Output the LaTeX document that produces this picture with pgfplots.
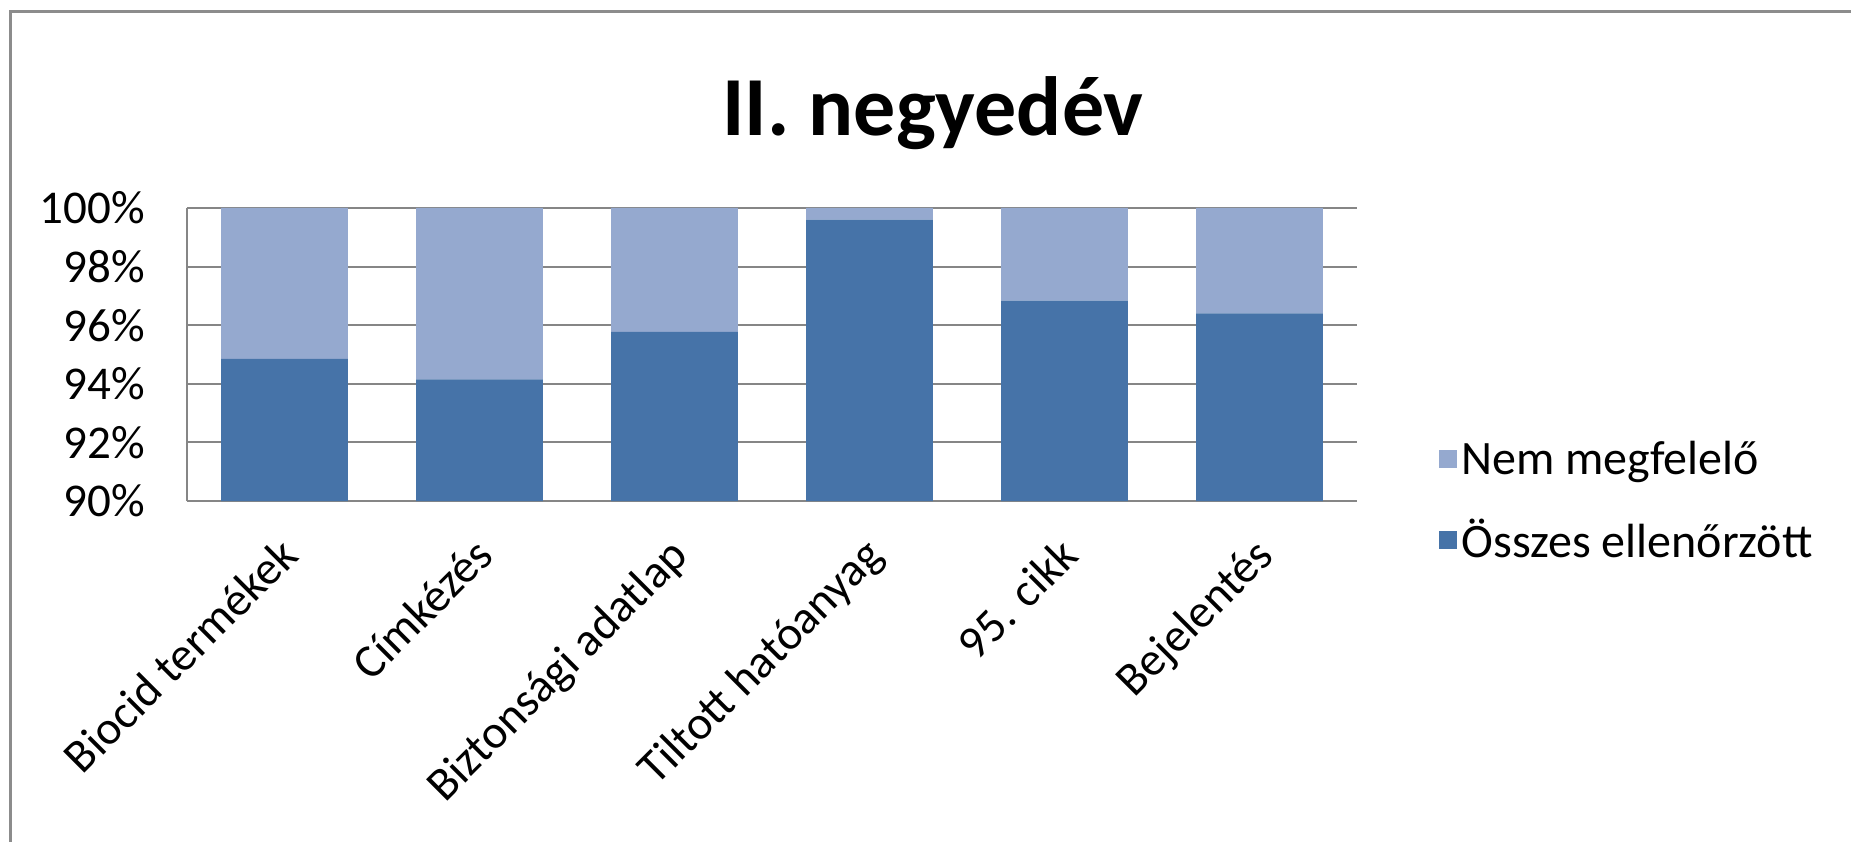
\documentclass[border=0pt]{standalone}
\usepackage{pgfplots}
\pgfplotsset{compat=1.18}
\usepackage{fontspec}
\setmainfont{Carlito}
\definecolor{darkbar}{RGB}{70,115,168}
\definecolor{lightbar}{RGB}{149,169,207}
\definecolor{gridgray}{RGB}{134,134,134}
\definecolor{framegray}{RGB}{140,140,140}
\begin{document}
\begin{tikzpicture}
  \useasboundingbox (0,0) rectangle (925.5pt,420.5pt);
  % outer frame (left and top edges are visible)
  \draw[framegray, line width=1.5pt] (5pt,-20pt) -- (5pt,414.5pt) -- (940pt,414.5pt);
  \node[anchor=base, font=\fontsize{42}{50}\selectfont\bfseries] at (466.5pt,352.5pt) {II. negyedév};
  \begin{axis}[
      at={(93.5pt,170pt)}, anchor=south west,
      scale only axis,
      width=585pt, height=146.5pt,
      ybar stacked,
      bar width=0.65,
      xmin=-0.5, xmax=5.5,
      ymin=90, ymax=100,
      xtick={0,1,2,3,4,5},
      xticklabels={Biocid termékek,Címkézés,Biztonsági adatlap,Tiltott hatóanyag,95. cikk,Bejelentés},
      ytick={90,92,94,96,98,100},
      yticklabels={90\%,92\%,94\%,96\%,98\%,100\%},
      major tick length=0pt,
      axis x line*=bottom, axis y line*=left,
      axis line style={gridgray, line width=1pt, -},
      ymajorgrids,
      grid style={gridgray, line width=1pt},
      tick label style={font=\fontsize{23.5}{28}\selectfont},
      yticklabel style={xshift=-17.5pt},
      xticklabel style={rotate=45, anchor=north east, xshift=-11pt, yshift=-6pt},
      legend style={at={(1.065,0)}, anchor=west, draw=none, fill=none,
        font=\fontsize{24}{29}\selectfont, row sep=17pt,
        /tikz/every even column/.append style={column sep=2pt}},
      legend cell align=left,
      reverse legend,
      legend image code/.code={\fill[#1] (0pt,-4.5pt) rectangle (9pt,4.5pt);},
    ]
    \addplot[fill=darkbar, draw=none] coordinates {
      (0,94.85) (1,94.15) (2,95.77) (3,99.6) (4,96.84) (5,96.4)};
    \addplot[fill=lightbar, draw=none] coordinates {
      (0,5.15) (1,5.85) (2,4.23) (3,0.4) (4,3.16) (5,3.6)};
    \legend{Összes ellenőrzött,Nem megfelelő}
  \end{axis}
\end{tikzpicture}
\end{document}
